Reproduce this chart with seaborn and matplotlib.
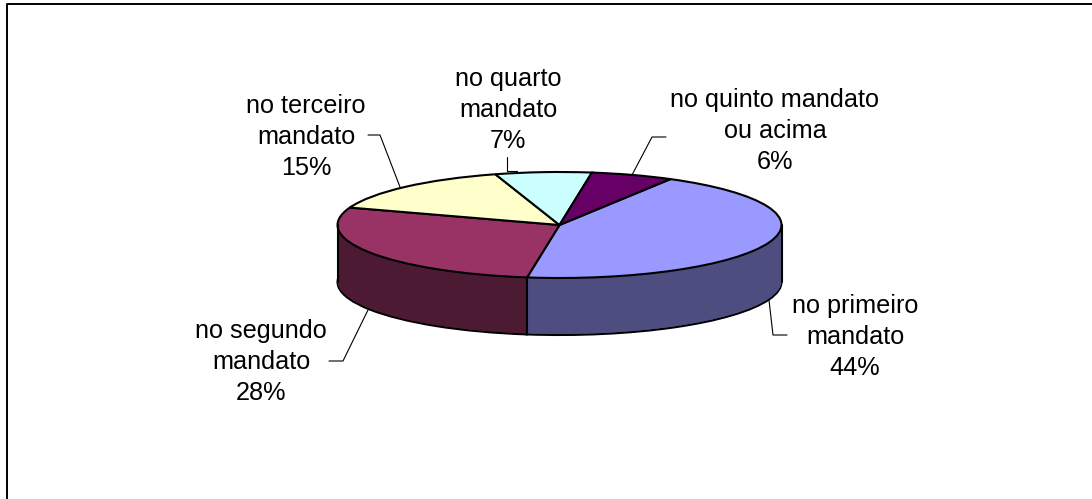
import numpy as np
import matplotlib
matplotlib.use("Agg")
import matplotlib.pyplot as plt
import seaborn as sns

categories = ["no primeiro\nmandato", "no segundo\nmandato", "no terceiro\nmandato",
              "no quarto\nmandato", "no quinto mandato\nou acima"]
values = [44, 28, 15, 7, 6]
top_colors = ["#9999FF", "#993366", "#FFFFCC", "#CCFFFF", "#660066"]
side_colors = ["#4D4D80", "#4D1A33", "#808066", "#668080", "#330033"]

sns.set_theme(style="white")
plt.rcParams["font.family"] = ["Liberation Sans", "DejaVu Sans"]

W, H = 1092, 499
CX, CY, RX, RY, DEPTH = 559.5, 225.0, 222.0, 53.0, 57.0
START = 60

fig = plt.figure(figsize=(W / 100, H / 100), dpi=100, facecolor="white")
ax = fig.add_axes([0, 0, 1, 1])
depth = DEPTH / RY

# bottom outline, then the stacked side wall
ax.pie(values, colors=sns.color_palette(side_colors), startangle=START, counterclock=False,
       center=(0, -depth), wedgeprops=dict(edgecolor="black", linewidth=1.5))
for d in np.linspace(depth, 0, int(DEPTH) + 1)[1:]:
    ax.pie(values, colors=sns.color_palette(side_colors), startangle=START, counterclock=False,
           center=(0, -d), wedgeprops=dict(linewidth=0))
# top face
ax.pie(values, colors=sns.color_palette(top_colors), startangle=START, counterclock=False,
       wedgeprops=dict(edgecolor="black", linewidth=1.5))

# vertical edges of the wall, from the data's slice boundary
theta = np.deg2rad(START - 360 * values[0] / sum(values))
bx, by = np.cos(theta), np.sin(theta)
ax.plot([-1, -1], [0, -depth], color="black", lw=1.5, zorder=3)
ax.plot([1, 1], [0, -depth], color="black", lw=1.5, zorder=3)
ax.plot([bx, bx], [by, by - depth], color="black", lw=1.5, zorder=3)

ax.set_aspect("auto")
ax.set_xlim(-CX / RX, (W - CX) / RX)
ax.set_ylim((CY - H) / RY, CY / RY)
ax.axis("off")

# overlay in pixel coordinates for labels, leaders and frame
ov = fig.add_axes([0, 0, 1, 1], facecolor="none")
ov.set_xlim(0, W)
ov.set_ylim(H, 0)
ov.axis("off")

ov.plot([6.5, 6.5, W], [H, 3.5, 3.5], color="black", lw=1.4, clip_on=False)

label_pos = [(855, 337), (261, 362), (306, 137), (508, 110), (775, 131)]
leaders = [
    [(769, 300), (773, 335), (787, 335)],
    [(368, 310), (343, 361), (329, 361)],
    [(400, 187), (380, 135), (368, 135)],
    [(517, 171), (506.5, 171), (506.5, 157)],
    [(632, 175), (652, 137), (666, 137)],
]
for name, v, (x, y), pts in zip(categories, values, label_pos, leaders):
    ov.text(x, y, f"{name}\n{v}%", ha="center", va="center", fontsize=18.2,
            color="black", linespacing=1.36)
    xs, ys = zip(*pts)
    ov.plot(xs, ys, color="black", lw=0.8)

fig.savefig("out.png", dpi=100)
